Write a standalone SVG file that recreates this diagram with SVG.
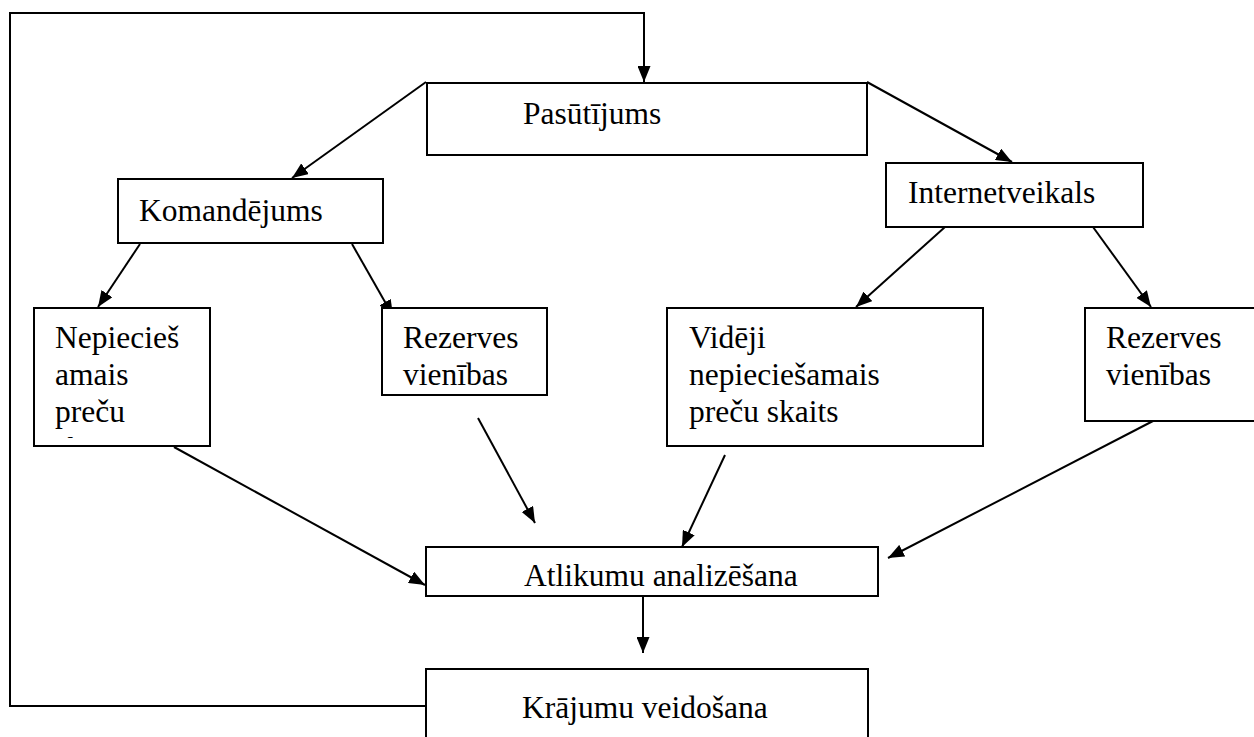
<svg xmlns="http://www.w3.org/2000/svg" width="1254" height="737" viewBox="0 0 1254 737">
<style>
.box{fill:#fff;stroke:#000;stroke-width:2}
.lbl{font-family:"Liberation Serif","Times New Roman",serif;font-size:31.5px;fill:#000}
.con{fill:none;stroke:#000;stroke-width:2}
</style>
<defs>
<marker id="ah" markerUnits="userSpaceOnUse" markerWidth="17" markerHeight="13" refX="16" refY="6.5" orient="auto">
<path d="M0,0 L16,6.5 L0,13 z" fill="#000"/>
</marker>
<clipPath id="clipN"><rect x="34" y="308" width="176" height="130"/></clipPath>
</defs>
<rect width="1254" height="737" fill="#fff"/>
<g id="connectors">
<polyline class="con" points="426,706 10,706 10,13 644,13 644,82" marker-end="url(#ah)"/>
<line class="con" x1="426" y1="82" x2="292" y2="178" marker-end="url(#ah)"/>
<line class="con" x1="867" y1="82" x2="1012" y2="162" marker-end="url(#ah)"/>
<line class="con" x1="140" y1="244" x2="98" y2="307" marker-end="url(#ah)"/>
<line class="con" x1="352" y1="244" x2="393" y2="316" marker-end="url(#ah)"/>
<line class="con" x1="945" y1="227" x2="856" y2="307" marker-end="url(#ah)"/>
<line class="con" x1="1093" y1="227" x2="1151" y2="307" marker-end="url(#ah)"/>
<line class="con" x1="174" y1="447" x2="425" y2="585" marker-end="url(#ah)"/>
<line class="con" x1="478" y1="418" x2="535" y2="523" marker-end="url(#ah)"/>
<line class="con" x1="725" y1="455" x2="682" y2="547" marker-end="url(#ah)"/>
<line class="con" x1="1153" y1="421" x2="888" y2="558" marker-end="url(#ah)"/>
<line class="con" x1="643" y1="597" x2="643" y2="653" marker-end="url(#ah)"/>
</g>
<g id="pasutijums">
<rect class="box" x="427" y="83" width="440" height="72"/>
<text class="lbl" x="523" y="124">Pasūtījums</text>
</g>
<g id="komandejums">
<rect class="box" x="118" y="179" width="265" height="64"/>
<text class="lbl" x="139" y="221">Komandējums</text>
</g>
<g id="internetveikals">
<rect class="box" x="886" y="163" width="257" height="64"/>
<text class="lbl" x="908" y="203">Internetveikals</text>
</g>
<g id="nepieciesamais">
<rect class="box" x="34" y="308" width="176" height="138"/>
<g clip-path="url(#clipN)">
<text class="lbl" x="55" y="348">Nepiecieš</text>
<text class="lbl" x="55" y="385">amais</text>
<text class="lbl" x="55" y="422">preču</text>
<text class="lbl" x="55" y="459">skaits</text>
</g>
</g>
<g id="rezerves-left">
<rect class="box" x="382" y="308" width="165" height="87"/>
<text class="lbl" x="403" y="348">Rezerves</text>
<text class="lbl" x="403" y="385">vienības</text>
</g>
<g id="videji">
<rect class="box" x="667" y="308" width="316" height="138"/>
<text class="lbl" x="689" y="348">Vidēji</text>
<text class="lbl" x="689" y="385">nepieciešamais</text>
<text class="lbl" x="689" y="422">preču skaits</text>
</g>
<g id="rezerves-right">
<rect class="box" x="1085" y="308" width="180" height="113"/>
<text class="lbl" x="1106" y="348">Rezerves</text>
<text class="lbl" x="1106" y="385">vienības</text>
</g>
<g id="atlikumu">
<rect class="box" x="426" y="547" width="452" height="49"/>
<text class="lbl" x="524" y="586">Atlikumu analizēšana</text>
</g>
<g id="krajumu">
<rect class="box" x="426" y="669" width="442" height="80"/>
<text class="lbl" x="522" y="718">Krājumu veidošana</text>
</g>
</svg>
